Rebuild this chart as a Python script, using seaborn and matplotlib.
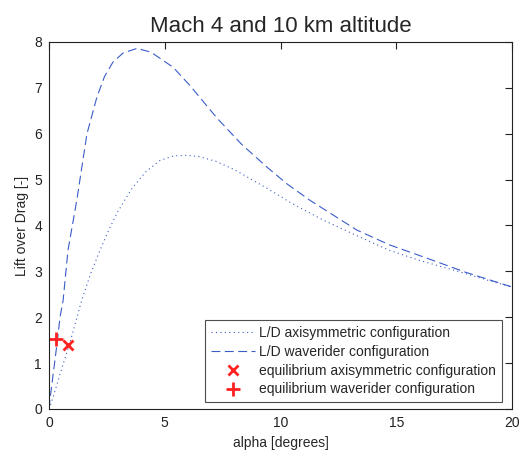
import matplotlib
matplotlib.use("Agg")
import matplotlib.pyplot as plt
import seaborn as sns
import pandas as pd

sns.set_style("white")
plt.rcParams['font.family'] = ['Liberation Sans', 'DejaVu Sans']

alpha_axi = [0, 0.18, 0.5, 0.9, 1.2, 1.41, 1.8, 2.2, 2.6, 2.94, 3.3, 3.63, 4.2, 4.8, 5.4, 5.96, 6.5, 7.2, 8.0, 9.42, 10.5, 11.8, 13.2, 14.7, 16.0, 17.6, 19.0, 20]
ld_axi = [0, 0.26, 0.8, 1.44, 1.98, 2.37, 2.95, 3.46, 3.92, 4.27, 4.58, 4.84, 5.18, 5.42, 5.52, 5.53, 5.50, 5.40, 5.22, 4.81, 4.48, 4.13, 3.80, 3.46, 3.24, 3.01, 2.80, 2.66]

alpha_wr = [0, 0.04, 0.35, 0.475, 0.61, 0.82, 1.2, 1.64, 2.07, 2.4, 2.76, 3.2, 3.8, 4.4, 5.36, 6.09, 7.26, 8.3, 9.42, 10.3, 11.27, 12.3, 13.3, 14.7, 16.2, 18.0, 20]
ld_wr = [0, 0.2, 1.44, 2.0, 2.37, 3.46, 4.55, 6.0, 6.8, 7.25, 7.56, 7.76, 7.86, 7.78, 7.45, 7.05, 6.34, 5.78, 5.27, 4.90, 4.55, 4.22, 3.90, 3.58, 3.31, 2.98, 2.66]

eq_axi_alpha = [0.83]
eq_axi_ld = [1.39]
eq_wr_alpha = [0.3]
eq_wr_ld = [1.52]

df_axi = pd.DataFrame({"alpha": alpha_axi, "ld": ld_axi})
df_wr = pd.DataFrame({"alpha": alpha_wr, "ld": ld_wr})

fig = plt.figure(figsize=(5.26, 4.5), dpi=100)
ax = fig.add_axes([49/526, 1-409/450, 463/526, 367/450])

line_col = '#3a5cc8'
sns.lineplot(data=df_axi, x="alpha", y="ld", ax=ax, color=line_col, lw=0.8,
             linestyle=(0, (1, 3)), label="L/D axisymmetric configuration", sort=False)
sns.lineplot(data=df_wr, x="alpha", y="ld", ax=ax, color=line_col, lw=0.8,
             linestyle=(0, (8, 4)), label="L/D waverider configuration", sort=False)
ax.plot(eq_axi_alpha, eq_axi_ld, linestyle='none', marker='x', color='#ff2020',
        markersize=7, mew=2, label="equilibrium axisymmetric configuration")
ax.plot(eq_wr_alpha, eq_wr_ld, linestyle='none', marker='+', color='#ff2020',
        markersize=10, mew=2, label="equilibrium waverider configuration")

ax.set_xlim(0, 20)
ax.set_ylim(0, 8)
ax.set_xticks([0, 5, 10, 15, 20])
ax.set_yticks(range(0, 9))
ax.tick_params(direction='in', length=5, width=0.8, top=True, right=True,
               labelsize=10, colors='#222222', pad=5)
for s in ax.spines.values():
    s.set_color('#222222')
    s.set_linewidth(0.8)
    s.set_visible(True)

ax.set_xlabel("alpha [degrees]", fontsize=10, labelpad=4)
ax.set_ylabel("Lift over Drag [-]", fontsize=10, labelpad=4)
ax.set_title("Mach 4 and 10 km altitude", fontsize=16, pad=7)

leg = ax.legend(loc='lower right', bbox_to_anchor=(0.978, 0.019), borderaxespad=0,
                fontsize=10, frameon=True, fancybox=False,
                edgecolor='#222222', handlelength=3.2,
                labelspacing=0.35, handletextpad=0.3)
leg.get_frame().set_linewidth(0.8)

fig.savefig("out.png", dpi=100)
